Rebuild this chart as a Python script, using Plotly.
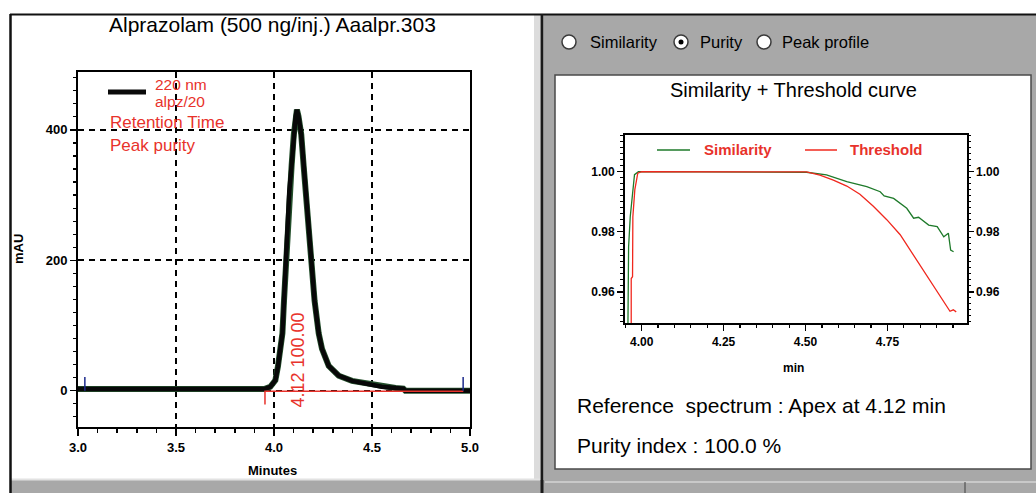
import plotly.graph_objects as go

W, H = 1036, 493


def X(px):
    return px / W


def Y(py):
    return 1 - py / H


# ---------------- data ----------------
chrom_time = [3.00, 3.50, 3.95, 3.981, 4.007, 4.020, 4.032, 4.043, 4.051, 4.061, 4.066, 4.078,
              4.090, 4.101, 4.110, 4.117, 4.125, 4.139, 4.152, 4.164, 4.177, 4.186, 4.207,
              4.228, 4.245, 4.279, 4.330, 4.398, 4.483, 4.550, 4.620, 4.660, 4.670, 5.00]
chrom_mau = [2.5, 2.5, 2.5, 6, 16, 37, 60, 88, 138, 199, 240, 306,
             346, 393, 420, 431, 421, 393, 342, 293, 240, 199, 138,
             88, 64, 38, 23, 15, 10, 6, 4, 3, 0, 0]

purity_mark_time = [3.954, 3.954, 4.966]
purity_mark_mau = [-21, -1, -1]

event_time = [3.035, 3.035, None, 4.965, 4.965]
event_mau = [0, 21, None, 0, 21]

retention_time = 4.12
purity_value = "100.00"

sim_time = [3.958, 3.960, 3.965, 3.972, 3.978, 3.990, 4.10, 4.30, 4.45, 4.503, 4.564, 4.626,
            4.687, 4.728, 4.740, 4.769, 4.809, 4.830, 4.845, 4.876, 4.902, 4.922, 4.936,
            4.943, 4.952]
sim_value = [0.9495, 0.975, 0.985, 0.993, 0.999, 1.000, 1.000, 1.000, 1.000, 0.9998, 0.9989,
             0.9967, 0.9950, 0.9933, 0.9919, 0.9911, 0.9878, 0.9845, 0.9848, 0.9822, 0.9817,
             0.9783, 0.9795, 0.9739, 0.9733]

thr_time = [3.968, 3.968, 3.972, 3.973, 3.979, 3.988, 4.00, 4.30, 4.503, 4.544, 4.585, 4.626,
            4.666, 4.707, 4.748, 4.789, 4.819, 4.850, 4.880, 4.910, 4.931, 4.941, 4.951, 4.960]
thr_value = [0.9495, 0.9644, 0.965, 0.985, 0.994, 0.9995, 1.000, 1.000, 0.9999, 0.9988, 0.9972,
             0.9952, 0.9925, 0.9885, 0.9840, 0.9790, 0.9740, 0.9690, 0.9637, 0.9590, 0.9552,
             0.9535, 0.9540, 0.9533]

left_title = "Alprazolam (500 ng/inj.) Aaalpr.303"
right_title = "Similarity + Threshold curve"
radio_labels = ["Similarity", "Purity", "Peak profile"]
legend_left = ["220 nm", "alpz/20", "Retention Time", "Peak purity"]
legend_right = ["Similarity", "Threshold"]
info_lines = ["Reference\u00a0 spectrum : Apex at 4.12 min", "Purity index : 100.0 %"]

RED = "#e8322b"
GREEN = "#1e7a2a"
FONT = "Liberation Sans, Arial, sans-serif"
GREY = "#a8a8a8"

fig = go.Figure()

# left chromatogram
fig.add_trace(go.Scatter(x=chrom_time, y=chrom_mau, mode="lines",
                         line=dict(color="#24502c", width=6), xaxis="x", yaxis="y",
                         hoverinfo="skip", showlegend=False))
fig.add_trace(go.Scatter(x=chrom_time, y=chrom_mau, mode="lines",
                         line=dict(color="#080808", width=4.5), xaxis="x", yaxis="y",
                         showlegend=False))
fig.add_trace(go.Scatter(x=purity_mark_time, y=purity_mark_mau, mode="lines",
                         line=dict(color=RED, width=1.5), xaxis="x", yaxis="y",
                         showlegend=False))
fig.add_trace(go.Scatter(x=event_time, y=event_mau, mode="lines",
                         line=dict(color="#1c2a8c", width=1.5), xaxis="x", yaxis="y",
                         showlegend=False))

# right similarity / threshold
fig.add_trace(go.Scatter(x=sim_time, y=sim_value, mode="lines",
                         line=dict(color=GREEN, width=1.3), xaxis="x2", yaxis="y2",
                         showlegend=False))
fig.add_trace(go.Scatter(x=thr_time, y=thr_value, mode="lines",
                         line=dict(color="#f0281e", width=1.3), xaxis="x2", yaxis="y2",
                         showlegend=False))
fig.add_trace(go.Scatter(x=[None], y=[None], xaxis="x2", yaxis="y3", showlegend=False))

tickfont_l = dict(family=FONT, size=13, color="black", weight="bold")
tickfont_r = dict(family=FONT, size=12, color="black", weight="bold")

shapes = [
    # right grey panel
    dict(type="rect", xref="paper", yref="paper", x0=X(544), x1=X(1036), y0=Y(493), y1=Y(14),
         fillcolor=GREY, line=dict(width=0), layer="below"),
    # light strip
    dict(type="rect", xref="paper", yref="paper", x0=X(534), x1=X(540), y0=Y(480), y1=Y(15),
         fillcolor="#dcdcdc", line=dict(width=0), layer="below"),
    # bottom grey strip
    dict(type="rect", xref="paper", yref="paper", x0=X(11), x1=X(544), y0=Y(493), y1=Y(480),
         fillcolor=GREY, line=dict(width=0), layer="below"),
    dict(type="line", xref="paper", yref="paper", x0=X(11), x1=X(540), y0=Y(479.5), y1=Y(479.5),
         line=dict(color="#e2e2e2", width=2), layer="below"),
    dict(type="line", xref="paper", yref="paper", x0=X(545), x1=X(1036), y0=Y(482), y1=Y(482),
         line=dict(color="#d4d4d4", width=1.5), layer="below"),
    dict(type="line", xref="paper", yref="paper", x0=X(965), x1=X(965), y0=Y(493), y1=Y(482),
         line=dict(color="#404040", width=1), layer="below"),
    # right white box
    dict(type="rect", xref="paper", yref="paper", x0=X(555), x1=X(1031), y0=Y(469), y1=Y(75),
         fillcolor="white", line=dict(color="#4a4a4a", width=1.5), layer="below"),
    # frame lines
    dict(type="line", xref="paper", yref="paper", x0=X(10), x1=X(1036), y0=Y(14.5), y1=Y(14.5),
         line=dict(color="#111111", width=2), layer="below"),
    dict(type="line", xref="paper", yref="paper", x0=X(10.5), x1=X(10.5), y0=Y(493), y1=Y(14),
         line=dict(color="#111111", width=2.5), layer="below"),
    dict(type="line", xref="paper", yref="paper", x0=X(542), x1=X(542), y0=Y(493), y1=Y(14),
         line=dict(color="#1a1a1a", width=3), layer="below"),
    # left legend symbol
    dict(type="line", xref="paper", yref="paper", x0=X(108), x1=X(146), y0=Y(92), y1=Y(92),
         line=dict(color="#0a0a0a", width=5)),
    # right legend symbols
    dict(type="line", xref="paper", yref="paper", x0=X(657), x1=X(690), y0=Y(150), y1=Y(150),
         line=dict(color=GREEN, width=1.5)),
    dict(type="line", xref="paper", yref="paper", x0=X(805), x1=X(837), y0=Y(150), y1=Y(150),
         line=dict(color="#f0281e", width=1.5)),
]

# radio buttons
radio_cx = [569, 681, 764]
radio_text_x = [588, 698, 780]
r = 7
for i, cx in enumerate(radio_cx):
    shapes.append(dict(type="circle", xref="paper", yref="paper", x0=X(cx - r), x1=X(cx + r),
                       y0=Y(42 + r), y1=Y(42 - r), fillcolor="white",
                       line=dict(color="#3a3a3a", width=1.5)))
shapes.append(dict(type="circle", xref="paper", yref="paper", x0=X(681 - 2.5), x1=X(681 + 2.5),
                   y0=Y(42 + 2.5), y1=Y(42 - 2.5), fillcolor="black", line=dict(width=0)))

annotations = []


def ann(text, px, py, size, color="black", xanchor="left", weight="normal", angle=0,
        family=FONT, xref="paper", xval=None):
    annotations.append(dict(text=text, xref=xref, yref="paper",
                            x=X(px) if xval is None else xval, y=Y(py),
                            xanchor=xanchor, yanchor="middle", showarrow=False,
                            textangle=angle,
                            font=dict(family=family, size=size, color=color, weight=weight)))


ann(left_title, 272, 25, 21, xanchor="center")
ann(right_title, 793, 90, 20, xanchor="center")
ann("Minutes", 272, 470, 13, xanchor="center", weight="bold")
ann("mAU", 19, 249, 13, xanchor="center", weight="bold", angle=-90)
ann("min", 793, 368, 12, xanchor="center", weight="bold")

ann(legend_left[0], 153, 84, 15.5, color=RED)
ann(legend_left[1], 153, 101, 15.5, color=RED)
ann(legend_left[2], 108, 122, 17, color=RED)
ann(legend_left[3], 108, 145, 17, color=RED)

ann(legend_right[0], 702, 150, 15, color=RED, weight="bold")
ann(legend_right[1], 848, 150, 15, color=RED, weight="bold")

ann(f"{retention_time:.2f} {purity_value}", 297, 360, 18, color=RED, xanchor="center",
    angle=-90, xref="x", xval=retention_time)

for lbl, tx in zip(radio_labels, radio_text_x):
    ann(lbl, tx, 42, 16.5)

ann(info_lines[0], 575, 405, 21)
ann(info_lines[1], 575, 445, 21)

common = dict(automargin=False, fixedrange=True, zeroline=False)

fig.update_layout(
    width=W, height=H, autosize=False,
    margin=dict(l=0, r=0, t=0, b=0, pad=0),
    paper_bgcolor="white", plot_bgcolor="rgba(0,0,0,0)",
    showlegend=False,
    font=dict(family=FONT, color="black"),
    xaxis=dict(domain=[X(78), X(470)], range=[3.0, 5.0], tick0=3.0, dtick=0.5, tickformat=".1f",
               showline=True, linecolor="black", linewidth=2, mirror=True,
               ticks="outside", ticklen=7, tickwidth=1.5, tickcolor="black",
               showgrid=True, gridcolor="black", gridwidth=1.8, griddash="6px,5px",
               tickfont=tickfont_l, anchor="y",
               minor=dict(dtick=0.1, ticklen=4, tickwidth=1.5, tickcolor="black",
                          ticks="outside", showgrid=False), **common),
    yaxis=dict(domain=[Y(427), Y(72)], range=[-55.7, 488.8], tick0=0, dtick=200,
               showline=True, linecolor="black", linewidth=2, mirror=True,
               ticks="outside", ticklen=6, tickwidth=1.5, tickcolor="black",
               showgrid=True, gridcolor="black", gridwidth=1.8, griddash="6px,5px",
               tickfont=tickfont_l, anchor="x",
               minor=dict(dtick=20, ticklen=3, tickwidth=1.2, tickcolor="black",
                          ticks="outside", showgrid=False), **common),
    xaxis2=dict(domain=[X(625), X(966.7)], range=[3.949, 4.992], tick0=4.0, dtick=0.25,
                tickformat=".2f", showline=True, linecolor="black", linewidth=2, mirror=True,
                ticks="outside", ticklen=6, tickwidth=1.5, tickcolor="black",
                showgrid=False, tickfont=tickfont_r, anchor="y2",
                minor=dict(dtick=0.05, ticklen=3, tickwidth=1.2, tickcolor="black",
                           ticks="outside", showgrid=False), **common),
    yaxis2=dict(domain=[Y(323.3), Y(135)], range=[0.9495, 1.0122], tick0=0.96, dtick=0.02,
                tickformat=".2f", showline=True, linecolor="black", linewidth=2, mirror=True,
                ticks="outside", ticklen=6, tickwidth=1.5, tickcolor="black",
                showgrid=False, tickfont=tickfont_r, anchor="x2",
                minor=dict(dtick=0.002, ticklen=3, tickwidth=1.2, tickcolor="black",
                           ticks="outside", showgrid=False), **common),
    yaxis3=dict(overlaying="y2", side="right", anchor="x2", range=[0.9495, 1.0122],
                tick0=0.96, dtick=0.02, tickformat=".2f", showline=False,
                ticks="outside", ticklen=6, tickwidth=1.5, tickcolor="black",
                showgrid=False, tickfont=tickfont_r,
                minor=dict(dtick=0.002, ticklen=3, tickwidth=1.2, tickcolor="black",
                           ticks="outside", showgrid=False), **common),
    shapes=shapes,
    annotations=annotations,
)

fig.write_html("out.html", config=dict(displayModeBar=False, staticPlot=True),
               post_script="document.body.style.margin='0';document.body.style.overflow='hidden';")
